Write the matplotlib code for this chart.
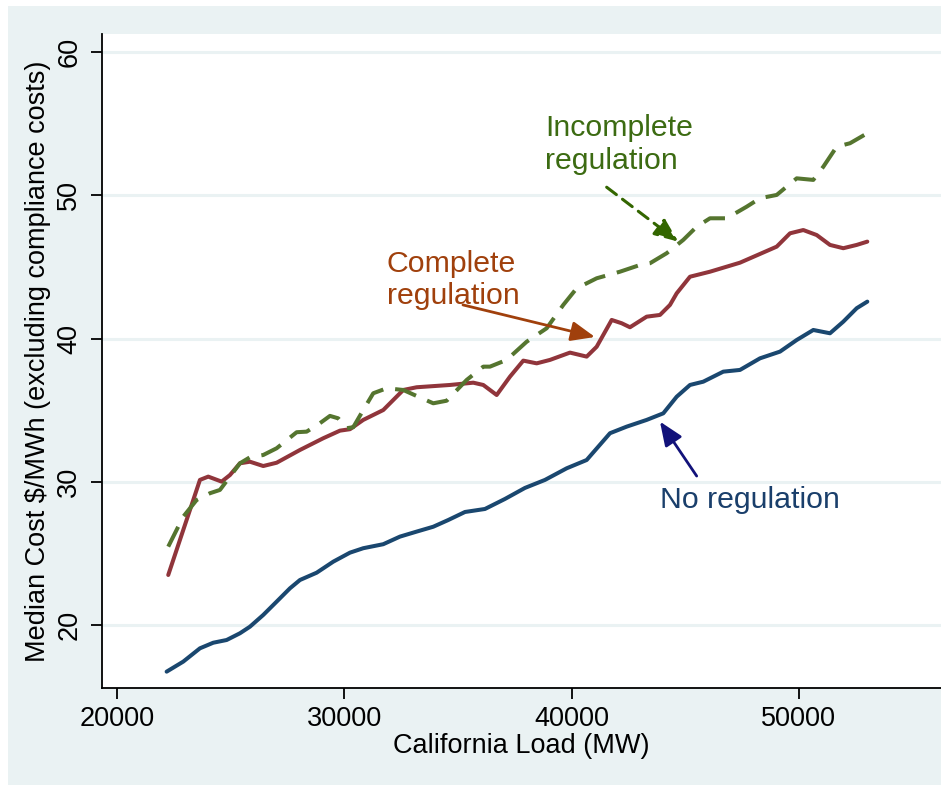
import matplotlib
matplotlib.use("Agg")
import matplotlib.pyplot as plt
from matplotlib.patches import Rectangle

plt.rcParams['font.family'] = ['Liberation Sans', 'DejaVu Sans']

# data (load in MW, median cost in $/MWh)
no_reg_x = [22167, 22898, 23634, 24220, 24810, 25396, 25837, 26423, 27013, 27599,
            28039, 28775, 29506, 30242, 30828, 31709, 32444, 33180, 33911, 34572,
            35308, 36188, 37069, 37950, 38832, 39787, 40668, 41695, 42430, 43311,
            44043, 44633, 45219, 45804, 46685, 47421, 48302, 49184, 49919, 50650,
            51386, 51971, 52562, 53029]
no_reg_y = [16.74, 17.44, 18.37, 18.76, 18.95, 19.42, 19.88, 20.70, 21.63, 22.56,
            23.14, 23.65, 24.42, 25.05, 25.36, 25.64, 26.17, 26.52, 26.86, 27.33,
            27.89, 28.10, 28.80, 29.57, 30.13, 30.94, 31.52, 33.39, 33.85, 34.32,
            34.78, 35.94, 36.76, 36.99, 37.69, 37.81, 38.62, 39.09, 39.90, 40.60,
            40.37, 41.18, 42.12, 42.58]

complete_x = [22238, 22753, 23194, 23634, 24000, 24590, 24956, 25396, 25837, 26423,
              27013, 28039, 29066, 29801, 30242, 30828, 31709, 32590, 33180, 34647,
              35673, 36114, 36704, 37290, 37876, 38466, 39052, 39933, 40668, 41109,
              41770, 42210, 42576, 43311, 43897, 44338, 44633, 45219, 46100, 47421,
              48302, 49038, 49624, 50209, 50800, 51386, 51971, 52562, 53029]
complete_y = [23.49, 25.94, 28.03, 30.13, 30.36, 30.01, 30.47, 31.29, 31.40, 31.10,
              31.33, 32.22, 33.04, 33.57, 33.67, 34.32, 35.01, 36.41, 36.60, 36.76,
              36.92, 36.76, 36.06, 37.34, 38.46, 38.27, 38.51, 39.02, 38.74, 39.43,
              41.30, 41.07, 40.79, 41.53, 41.65, 42.35, 43.16, 44.32, 44.67, 45.30,
              45.91, 46.42, 47.35, 47.58, 47.23, 46.54, 46.31, 46.54, 46.77]

incomplete_x = [22238, 22898, 23489, 24075, 24515, 24956, 25396, 25837, 26423, 27013,
                27894, 28334, 28920, 29361, 29726, 30096, 30387, 30828, 31268, 31858,
                32590, 33180, 33911, 34501, 35382, 36114, 36409, 37144, 38025, 38906,
                39638, 40228, 41109, 42135, 43016, 43457, 44192, 44923, 45514, 46100,
                46835, 47716, 48302, 49038, 49919, 50650, 51091, 51681, 52267, 53029]
incomplete_y = [25.47, 27.56, 28.73, 29.20, 29.43, 30.36, 31.29, 31.71, 31.87, 32.34,
                33.46, 33.50, 34.09, 34.60, 34.43, 33.74, 33.81, 35.01, 36.18, 36.53,
                36.41, 35.99, 35.48, 35.66, 37.11, 38.04, 38.04, 38.51, 39.78, 40.72,
                42.35, 43.51, 44.21, 44.67, 45.14, 45.26, 45.96, 46.89, 47.81, 48.40,
                48.40, 49.21, 49.80, 50.03, 51.19, 51.08, 52.00, 53.40, 53.64, 54.34]

x_ticks = [20000, 30000, 40000, 50000]
y_ticks = [20, 30, 40, 50, 60]

bg = '#eaf2f3'
fig = plt.figure(figsize=(9.41, 7.85), dpi=100, facecolor='white')
fig.patches.append(Rectangle((8 / 941, 0), 1, 779 / 785, transform=fig.transFigure,
                             facecolor=bg, edgecolor='none', zorder=-10))
ax = fig.add_axes([0.108, 0.1236, 0.892, 0.8331])
ax.set_facecolor('white')

ax.plot(no_reg_x, no_reg_y, color='#1a476f', lw=2.9,
        solid_capstyle='round', solid_joinstyle='round')
ax.plot(complete_x, complete_y, color='#90353b', lw=2.9,
        solid_capstyle='round', solid_joinstyle='round')
ax.plot(incomplete_x, incomplete_y, color='#55752f', lw=2.9, linestyle=(0, (5.5, 3)),
        dash_joinstyle='round')

ax.set_xlim(19304, 56275)
ax.set_ylim(15.6, 61.27)
ax.set_xticks(x_ticks)
ax.set_yticks(y_ticks)
ax.yaxis.grid(True, color='#eaf2f3', lw=2.2)
ax.set_axisbelow(True)
for s in ['top', 'right']:
    ax.spines[s].set_visible(False)
for s in ['left', 'bottom']:
    ax.spines[s].set_linewidth(1.3)
ax.tick_params(axis='both', length=8, width=1.3, direction='out', labelsize=19.5, pad=5)
ax.tick_params(axis='y', labelrotation=90, pad=6)
plt.setp(ax.get_yticklabels(), va='center')

ax.set_xlabel('California Load (MW)', fontsize=19.5, labelpad=1)
ax.set_ylabel('Median Cost $/MWh (excluding compliance costs)', fontsize=19.5, labelpad=4)

# annotations
head = '-|>,head_length=1.45,head_width=0.6'
ax.text(31858, 44.1, 'Complete\nregulation', color='#a0400c', fontsize=21.8,
        ha='left', va='center', linespacing=1.2)
ax.annotate('', xy=(41034, 40.11), xytext=(35220, 42.35),
            arrowprops=dict(arrowstyle=head, color='#a0400c', lw=2,
                            shrinkA=0, shrinkB=0))

ax.text(38832, 53.55, 'Incomplete\nregulation', color='#3c6b12', fontsize=21.8,
        ha='left', va='center', linespacing=1.2)
ax.annotate('', xy=(44703, 46.77), xytext=(41549, 50.57),
            arrowprops=dict(arrowstyle=head, color='#336600', lw=2.2,
                            linestyle=(0, (4, 2.5)), shrinkA=0, shrinkB=0))

ax.text(43897, 28.73, 'No regulation', color='#1a3f6b', fontsize=21.8,
        ha='left', va='center')
ax.annotate('', xy=(43897, 34.20), xytext=(45514, 30.40),
            arrowprops=dict(arrowstyle=head, color='#12127a', lw=2,
                            shrinkA=0, shrinkB=0))

fig.savefig('out.png', dpi=100, facecolor=fig.get_facecolor())
